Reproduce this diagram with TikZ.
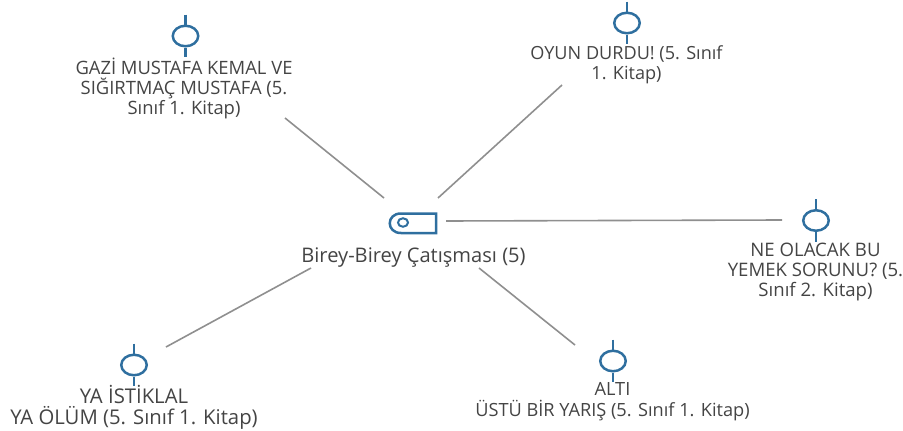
\documentclass[tikz,border=0pt]{standalone}
\usepackage{fontspec}
\setmainfont{Open Sans}
\usetikzlibrary{shapes.geometric,calc}
\definecolor{iconblue}{HTML}{2F6F9F}
\definecolor{txt}{HTML}{444444}
\definecolor{linec}{HTML}{8F8F8F}
\tikzset{
  lbl/.style={align=center,text=txt,inner sep=0pt},
  fs/.style 2 args={font=\fontsize{#1}{#2}\selectfont},
  ic/.style={draw=iconblue,line width=2.5pt},
  conn/.style={draw=linec,line width=1.6pt},
  bulb/.style={ellipse,draw=iconblue,line width=2.5pt,minimum width=25.5pt,minimum height=20.5pt,inner sep=0pt},
}
\newcommand{\docicon}[2]{%
  \node[bulb] (#1) at (#2) {};
  \draw[ic] ($(#1.north)+(0,-10)$) -- (#1.north);
  \draw[ic] (#1.south) -- ($(#1.south)+(0,9.5)$);
}
\begin{document}
\begin{tikzpicture}[x=1pt,y=-1pt]
\useasboundingbox (0,0) rectangle (903,431);
% hub
\draw[ic] (401,213.5) -- (436,213.5) -- (436,233) -- (401,233)
  .. controls (386,233) and (386,213.5) .. (401,213.5) -- cycle;
\node[ellipse,draw=iconblue,line width=2pt,minimum width=10pt,minimum height=8.5pt,inner sep=0pt] (hubdot) at (403,222.5) {};
\node[lbl,fs={20.1}{24}] (hub) at (413.5,258) {Birey-Birey Çatışması (5)};
\coordinate (hubA) at (384,198);
\coordinate (hubB) at (438,198);
\coordinate (hubC) at (446,221);
\coordinate (hubD) at (311,268);
\coordinate (hubE) at (479,268);
% leaves
\docicon{a}{185.5,36}
\node[lbl,fs={18.4}{20}] (ta) at (184,88.5) {GAZİ MUSTAFA KEMAL VE\\SIĞIRTMAÇ MUSTAFA (5.\\Sınıf 1. Kitap)};
\docicon{b}{627,23}
\node[lbl,fs={18.1}{20}] (tb) at (626.5,65) {OYUN DURDU! (5. Sınıf\\1. Kitap)};
\docicon{c}{816,220.5}
\node[lbl,fs={18.6}{20}] (tc) at (815.5,271.5) {NE OLACAK BU\\YEMEK SORUNU? (5.\\Sınıf 2. Kitap)};
\docicon{d}{134,365}
\node[lbl,fs={20.3}{21.5}] (td) at (134,407.5) {YA İSTİKLAL\\YA ÖLÜM (5. Sınıf 1. Kitap)};
\docicon{e}{613,361}
\node[lbl,fs={18.2}{21}] (te) at (612.5,402) {ALTI\\ÜSTÜ BİR YARIŞ (5. Sınıf 1. Kitap)};
\coordinate (endA) at (285,118);
\coordinate (endB) at (562,85);
\coordinate (endC) at (782,220);
\coordinate (endD) at (166,347);
\coordinate (endE) at (575,345);
\draw[conn] (hubA) -- (endA);
\draw[conn] (hubB) -- (endB);
\draw[conn] (hubC) -- (endC);
\draw[conn] (hubD) -- (endD);
\draw[conn] (hubE) -- (endE);
\end{tikzpicture}
\end{document}
